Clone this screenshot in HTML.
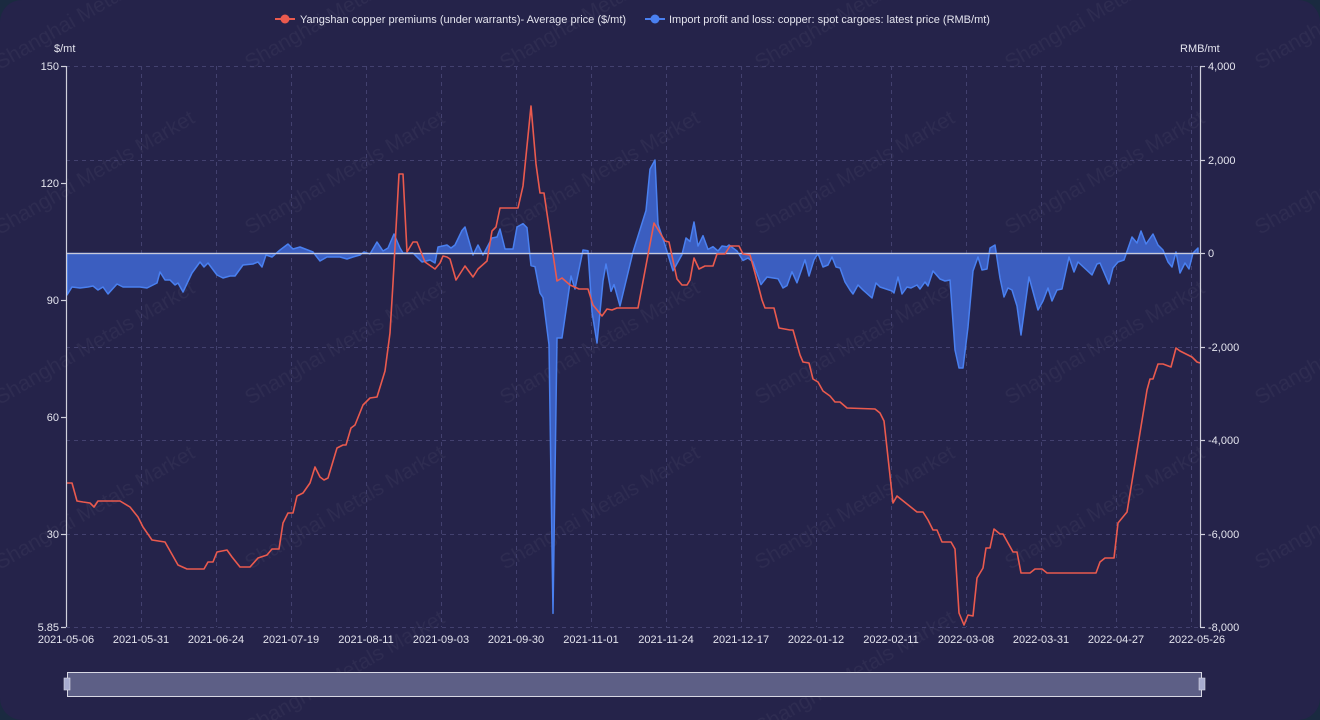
<!DOCTYPE html>
<html><head><meta charset="utf-8"><style>
html,body{margin:0;padding:0;background:#1a2a40;}
svg{display:block;font-family:"Liberation Sans","DejaVu Sans",sans-serif;}
</style></head><body>
<svg width="1320" height="720" viewBox="0 0 1320 720" xmlns="http://www.w3.org/2000/svg">
<rect x="0" y="0" width="1320" height="720" rx="22" fill="#25234a"/>
<!-- watermarks -->
<g fill="#ffffff" fill-opacity="0.045" font-size="21">
<text transform="translate(0,70) rotate(-30)">Shanghai Metals Market</text>
<text transform="translate(250,70) rotate(-30)">Shanghai Metals Market</text>
<text transform="translate(505,70) rotate(-30)">Shanghai Metals Market</text>
<text transform="translate(760,70) rotate(-30)">Shanghai Metals Market</text>
<text transform="translate(1010,70) rotate(-30)">Shanghai Metals Market</text>
<text transform="translate(1260,70) rotate(-30)">Shanghai Metals Market</text>
<text transform="translate(0,235) rotate(-30)">Shanghai Metals Market</text>
<text transform="translate(250,235) rotate(-30)">Shanghai Metals Market</text>
<text transform="translate(505,235) rotate(-30)">Shanghai Metals Market</text>
<text transform="translate(760,235) rotate(-30)">Shanghai Metals Market</text>
<text transform="translate(1010,235) rotate(-30)">Shanghai Metals Market</text>
<text transform="translate(1260,235) rotate(-30)">Shanghai Metals Market</text>
<text transform="translate(0,405) rotate(-30)">Shanghai Metals Market</text>
<text transform="translate(250,405) rotate(-30)">Shanghai Metals Market</text>
<text transform="translate(505,405) rotate(-30)">Shanghai Metals Market</text>
<text transform="translate(760,405) rotate(-30)">Shanghai Metals Market</text>
<text transform="translate(1010,405) rotate(-30)">Shanghai Metals Market</text>
<text transform="translate(1260,405) rotate(-30)">Shanghai Metals Market</text>
<text transform="translate(0,570) rotate(-30)">Shanghai Metals Market</text>
<text transform="translate(250,570) rotate(-30)">Shanghai Metals Market</text>
<text transform="translate(505,570) rotate(-30)">Shanghai Metals Market</text>
<text transform="translate(760,570) rotate(-30)">Shanghai Metals Market</text>
<text transform="translate(1010,570) rotate(-30)">Shanghai Metals Market</text>
<text transform="translate(1260,570) rotate(-30)">Shanghai Metals Market</text>
<text transform="translate(250,735) rotate(-30)">Shanghai Metals Market</text>
<text transform="translate(760,735) rotate(-30)">Shanghai Metals Market</text>
</g>
<!-- grid -->
<g stroke="#43416f" stroke-width="1" stroke-dasharray="4,4" fill="none">
<line x1="66" y1="66.5" x2="1200" y2="66.5"/>
<line x1="66" y1="160.5" x2="1200" y2="160.5"/>
<line x1="66" y1="347.5" x2="1200" y2="347.5"/>
<line x1="66" y1="440.5" x2="1200" y2="440.5"/>
<line x1="66" y1="534.5" x2="1200" y2="534.5"/>
<line x1="66" y1="627.5" x2="1200" y2="627.5"/>
<line x1="141.5" y1="66" x2="141.5" y2="627"/>
<line x1="216.5" y1="66" x2="216.5" y2="627"/>
<line x1="291.5" y1="66" x2="291.5" y2="627"/>
<line x1="366.5" y1="66" x2="366.5" y2="627"/>
<line x1="441.5" y1="66" x2="441.5" y2="627"/>
<line x1="516.5" y1="66" x2="516.5" y2="627"/>
<line x1="591.5" y1="66" x2="591.5" y2="627"/>
<line x1="666.5" y1="66" x2="666.5" y2="627"/>
<line x1="741.5" y1="66" x2="741.5" y2="627"/>
<line x1="816.5" y1="66" x2="816.5" y2="627"/>
<line x1="891.5" y1="66" x2="891.5" y2="627"/>
<line x1="966.5" y1="66" x2="966.5" y2="627"/>
<line x1="1041.5" y1="66" x2="1041.5" y2="627"/>
<line x1="1116.5" y1="66" x2="1116.5" y2="627"/>
<line x1="1191.5" y1="66" x2="1191.5" y2="627"/>
</g>
<!-- blue area -->
<path fill="#3b5ec0" stroke="#4a80f0" stroke-width="1.5" stroke-linejoin="round" d="M67,253.5 L67,295 L72,287 L80,288 L88,287 L93,286 L98,290 L103,287 L108,294 L117,284 L123,287 L140,287 L147,288 L157,283 L160,272 L165,280 L170,280 L175,285 L178,283 L183,292 L192,273 L200,262 L204,267 L208,263 L217,275 L223,278 L230,276 L235,276 L243,265 L253,264 L258,262 L262,267 L266,255 L272,257 L280,250 L288,244 L293,249 L300,247 L313,252 L320,261 L327,257 L340,257 L347,259 L353,257 L360,255 L364,252 L370,254 L377,242 L383,251 L388,248 L394,234 L400,248 L403,253 L413,253 L422,262 L430,260 L435,263 L438,247 L447,245 L451,248 L455,245 L462,230.5 L465,227 L473,255 L478,245 L483,255 L492,238 L497,237 L500,229 L505,249 L513,249 L517,227 L523,223.6 L527,227.7 L531,265.6 L535,266.7 L540,293 L543,297.6 L549,344.8 L553,613.4 L557,338 L562,338 L571,276 L575,289 L583,250 L588,250.8 L592,312 L597,343 L603,281 L606,264 L611,291.4 L614,284.6 L620,306 L633,252 L646,210.5 L650,169.2 L655,160 L658,224.3 L665,245 L673,270.8 L682,254.6 L686,238 L690,241.5 L694,222 L698,246 L703,235.7 L708,249.4 L713,246.7 L718,251 L722,246 L727,246.7 L729,245 L737,251 L743,260.5 L748,258 L753,262 L761,284.6 L767,277 L778,278.7 L783,288 L787,285.6 L792,271.8 L797,282.8 L805,259.8 L809,276 L814,259.8 L818,253.6 L823,267 L828,265 L832,257 L836,267 L840,268 L845,282 L850,290 L853,294 L858,285 L863,290 L872,298 L876,283 L880,287 L892,291 L894,293 L898,277 L902,294 L907,287 L911,288 L917,285 L920,289 L925,282 L928,286 L933,271 L940,279 L945,281 L950,280 L955,350 L959,368 L963,368 L968,327 L973,271 L978,257 L982,270 L987,269 L990,248 L995,245 L1000,278 L1004,297 L1008,288 L1012,290 L1017,306 L1021,335 L1029,277 L1038,310 L1043,301 L1048,288 L1052,301 L1057,290 L1062,289 L1069,257 L1074,272 L1078,262 L1092,275 L1097,264 L1100,263 L1109,284 L1113,268 L1118,262 L1124,260 L1132,237 L1137,243 L1141,231 L1146,244 L1153,234 L1158,245 L1163,250 L1168,262 L1172,267 L1176,252 L1180,273 L1185,263 L1189,269 L1193,253 L1198,248 L1198,253.5 Z"/>
<line x1="66" y1="253.5" x2="1200" y2="253.5" stroke="#c8c8d8" stroke-width="1.2"/>
<polyline fill="none" stroke="#ea5a4e" stroke-width="1.6" stroke-linejoin="round" points="67,483 72,483 77,501 83,502 90,503 94,507 98,501 120,501 130,507 138,517 143,527 152,540 165,542 178,565 187,569 204,569 208,562 213,562 217,552 227,550 232,557 240,567 250,567 258,558 267,555 272,549 279,549 283,523 288,513 293,513 297,496 303,493 310,483 315,467 320,477 324,480 328,478 337,448 343,445 346,445 351,428 355,425 363,405 370,398 377,397 385,371 390,333 393,283 399,174 403,174 407,252 413,242 417,242 425,262 435,269 440,263 443,256 447,257 450,259 456,280 465,266 473,277 478,269 487,261 492,231 496,227 500,208 518,208 523,186 531,106 536,164 540,193 544,193 557,281 562,278 570,285 579,289 588,289 593,305 602,316 607,309 612,310 617,308 638,308 654,223 665,241 669,242 677,279 682,285 687,285 690,280 694,258 699,269 705,266 713,266 717,254 725,254 730,246 739,246 743,254 750,255 755,273 762,300 765,308 774,308 779,328 790,330 793,330 800,355 803,362 809,363 813,379 818,382 823,391 830,396 835,402 840,402 847,408 875,409 880,413 884,421 893,503 897,496 917,512 923,512 928,520 933,530 937,530 942,542 951,542 955,549 959,613 964,625 968,615 973,616 977,578 983,568 986,548 990,548 994,529 1000,534 1003,534 1013,552 1017,552 1021,573 1030,573 1035,569 1042,569 1047,573 1096,573 1100,562 1105,558 1114,558 1118,523 1127,512 1147,390 1150,379 1153,379 1158,364 1163,364 1171,367 1176,348 1180,351 1192,357 1197,362 1200,363"/>
<g stroke="#d0d0dc" stroke-width="1.2">
<line x1="66.5" y1="66" x2="66.5" y2="627"/>
<line x1="1200.5" y1="66" x2="1200.5" y2="627"/>
<line x1="61" y1="66.5" x2="66" y2="66.5"/>
<line x1="61" y1="183.5" x2="66" y2="183.5"/>
<line x1="61" y1="300.5" x2="66" y2="300.5"/>
<line x1="61" y1="417.5" x2="66" y2="417.5"/>
<line x1="61" y1="534.5" x2="66" y2="534.5"/>
<line x1="61" y1="627.5" x2="66" y2="627.5"/>
<line x1="1200" y1="66.5" x2="1205" y2="66.5"/>
<line x1="1200" y1="160.5" x2="1205" y2="160.5"/>
<line x1="1200" y1="253.5" x2="1205" y2="253.5"/>
<line x1="1200" y1="347.5" x2="1205" y2="347.5"/>
<line x1="1200" y1="440.5" x2="1205" y2="440.5"/>
<line x1="1200" y1="534.5" x2="1205" y2="534.5"/>
<line x1="1200" y1="627.5" x2="1205" y2="627.5"/>
</g>
<g fill="#e4e4ee" font-size="11">
<text x="54" y="52">$/mt</text>
<text x="1180" y="52">RMB/mt</text>
<g text-anchor="end">
<text x="59" y="70">150</text>
<text x="59" y="187">120</text>
<text x="59" y="304">90</text>
<text x="59" y="421">60</text>
<text x="59" y="538">30</text>
<text x="59" y="631">5.85</text>
</g>
<text x="1208" y="70">4,000</text>
<text x="1208" y="164">2,000</text>
<text x="1208" y="257">0</text>
<text x="1208" y="351">-2,000</text>
<text x="1208" y="444">-4,000</text>
<text x="1208" y="538">-6,000</text>
<text x="1208" y="631">-8,000</text>
<g text-anchor="middle">
<text x="66" y="643">2021-05-06</text>
<text x="141" y="643">2021-05-31</text>
<text x="216" y="643">2021-06-24</text>
<text x="291" y="643">2021-07-19</text>
<text x="366" y="643">2021-08-11</text>
<text x="441" y="643">2021-09-03</text>
<text x="516" y="643">2021-09-30</text>
<text x="591" y="643">2021-11-01</text>
<text x="666" y="643">2021-11-24</text>
<text x="741" y="643">2021-12-17</text>
<text x="816" y="643">2022-01-12</text>
<text x="891" y="643">2022-02-11</text>
<text x="966" y="643">2022-03-08</text>
<text x="1041" y="643">2022-03-31</text>
<text x="1116" y="643">2022-04-27</text>
<text x="1197" y="643">2022-05-26</text>
</g>
</g>
<line x1="275" y1="19" x2="295" y2="19" stroke="#ea5a4e" stroke-width="2"/>
<circle cx="285" cy="19" r="4.5" fill="#ea5a4e"/>
<text x="300" y="23" fill="#e4e4ee" font-size="11">Yangshan copper premiums (under warrants)- Average price  ($/mt)</text>
<line x1="645" y1="19" x2="665" y2="19" stroke="#4a80f0" stroke-width="2"/>
<circle cx="655" cy="19" r="4.5" fill="#4a80f0"/>
<text x="669" y="23" fill="#e4e4ee" font-size="11">Import profit and loss: copper: spot cargoes: latest price  (RMB/mt)</text>
<rect x="67.5" y="672.5" width="1134" height="24" fill="#5d5f86" stroke="#d8d8e4" stroke-width="1"/>
<rect x="64" y="678" width="6" height="12" fill="#a8acd0" stroke="#d8d8e4" stroke-width="0.6"/>
<rect x="1199" y="678" width="6" height="12" fill="#a8acd0" stroke="#d8d8e4" stroke-width="0.6"/>
</svg>
</body></html>
